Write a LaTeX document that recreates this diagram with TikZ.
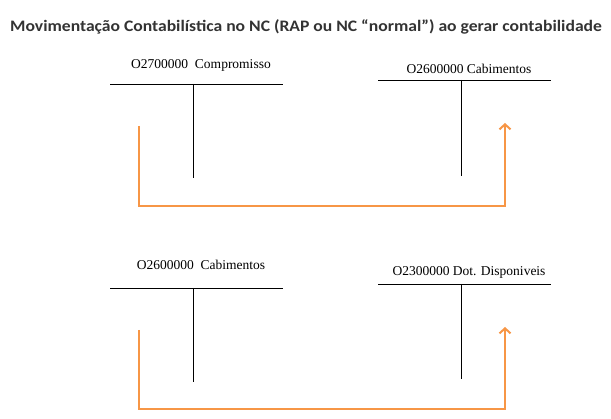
\documentclass[tikz,border=0pt]{standalone}
\usepackage{fontspec}
\setmainfont{Liberation Serif}
\newfontfamily\titlefont[FakeStretch=1.1]{Carlito}
\usetikzlibrary{arrows.meta}
\definecolor{laranja}{RGB}{247,150,70}

\begin{document}
\begin{tikzpicture}[x=1pt,y=-1pt,
	conta/.style={font=\fontsize{13.5}{15}\selectfont, inner sep=0pt},
	razao/.style={draw=black, line width=0.8pt},
	fluxo/.style={draw=laranja, line width=2pt, -{Straight Barb[length=5pt,width=11pt]}}]
	\useasboundingbox (0,0) rectangle (611,419);

	\node[font=\titlefont\bfseries\fontsize{16}{19}\selectfont, text=black!80] (titulo) at (306, 27) {Movimentação Contabilística no NC (RAP ou NC “normal”) ao gerar contabilidade};

	% primeiro movimento
	\node[conta] (comp)  at (201, 65) {O2700000\ \ Compromisso};
	\node[conta] (cab1)  at (469, 69) {O2600000 Cabimentos};
	\coordinate (a1) at (110, 84);  \coordinate (a2) at (283, 84);
	\coordinate (a3) at (193, 84);  \coordinate (a4) at (193, 178);
	\coordinate (b1) at (378, 80);  \coordinate (b2) at (551, 80);
	\coordinate (b3) at (461, 80);  \coordinate (b4) at (461, 176);
	\path[razao] (a1) edge (a2) (a3) edge (a4);
	\path[razao] (b1) edge (b2) (b3) edge (b4);
	\coordinate (s1) at (139, 126);
	\coordinate (e1) at (505, 123);
	\draw[fluxo] (s1) |- (317, 206) -| (e1);

	% segundo movimento
	\node[conta] (cab2)  at (201, 265) {O2600000\ \ Cabimentos};
	\node[conta] (disp)  at (469, 272) {O2300000 Dot. Disponiveis};
	\coordinate (c1) at (110, 288); \coordinate (c2) at (283, 288);
	\coordinate (c3) at (193, 288); \coordinate (c4) at (193, 382);
	\coordinate (d1) at (378, 284); \coordinate (d2) at (551, 284);
	\coordinate (d3) at (461, 284); \coordinate (d4) at (461, 379);
	\path[razao] (c1) edge (c2) (c3) edge (c4);
	\path[razao] (d1) edge (d2) (d3) edge (d4);
	\coordinate (s2) at (139, 330);
	\coordinate (e2) at (505, 327);
	\draw[fluxo] (s2) |- (317, 409) -| (e2);
\end{tikzpicture}
\end{document}
